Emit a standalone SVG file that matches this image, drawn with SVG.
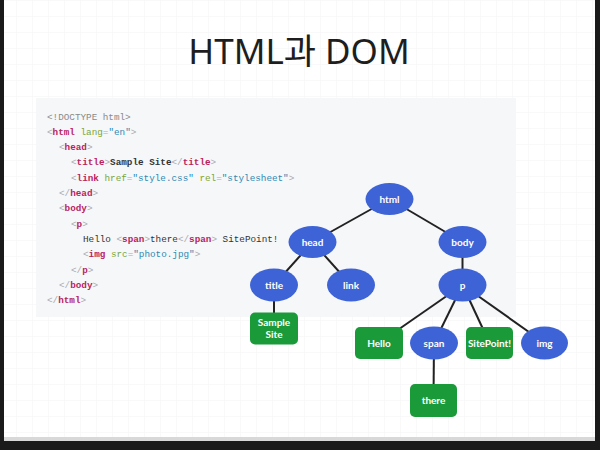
<svg xmlns="http://www.w3.org/2000/svg" width="600" height="450" viewBox="0 0 600 450">
  <defs>
    <pattern id="grid" width="16" height="16" patternUnits="userSpaceOnUse">
      <path d="M16 0H0V16" fill="none" stroke="#f4f4f6" stroke-width="1"/>
    </pattern>
    <linearGradient id="shade" x1="0" y1="0" x2="0" y2="1">
      <stop offset="0" stop-color="#ffffff"/>
      <stop offset="1" stop-color="#d8d8d8"/>
    </linearGradient>
  </defs>
  <style>
    .code { font-family: "Liberation Mono", "DejaVu Sans Mono", monospace; font-size: 9.3px; fill: #333; }
    .b { fill: #a9a9b0; }
    .d { fill: #8a8a8a; }
    .t { fill: #b8235f; font-weight: bold; }
    .a { fill: #7aa53a; }
    .v { fill: #2f89b3; }
    .edge { stroke: #222; stroke-width: 2; fill: none; }
    .el { fill: #3e63d6; }
    .gr { fill: #1b9a3a; }
    .lbl { font-family: "Lato", "Open Sans", sans-serif; font-size: 10px; font-weight: bold; fill: #fff; text-anchor: middle; }
  </style>

  <!-- slide background and frame -->
  <rect x="0" y="0" width="600" height="450" fill="#1a1a1a"/>
  <rect x="4" y="0" width="591" height="441" fill="url(#shade)"/>
  <rect x="4" y="0" width="591" height="437" fill="#ffffff"/>
  <rect x="4" y="0" width="591" height="437" fill="url(#grid)"/>

  <!-- title -->
  <text x="299" y="64" font-family="Noto Sans, Noto Sans CJK KR, sans-serif" font-size="35" fill="#1e1e1e" text-anchor="middle">HTML과 DOM</text>

  <!-- code box -->
  <rect x="36" y="98" width="480" height="219" fill="#f6f7f9"/>
  <g class="code">
    <text x="47" y="119.5"><tspan class="d">&lt;!DOCTYPE html&gt;</tspan></text>
    <text x="47" y="134.8"><tspan class="b">&lt;</tspan><tspan class="t">html</tspan> <tspan class="a">lang</tspan><tspan class="b">=</tspan><tspan class="v">"en"</tspan><tspan class="b">&gt;</tspan></text>
    <text x="59" y="150.1"><tspan class="b">&lt;</tspan><tspan class="t">head</tspan><tspan class="b">&gt;</tspan></text>
    <text x="71" y="165.4"><tspan class="b">&lt;</tspan><tspan class="t">title</tspan><tspan class="b">&gt;</tspan><tspan font-weight="bold">Sample Site</tspan><tspan class="b">&lt;/</tspan><tspan class="t">title</tspan><tspan class="b">&gt;</tspan></text>
    <text x="71" y="180.7"><tspan class="b">&lt;</tspan><tspan class="t">link</tspan> <tspan class="a">href</tspan><tspan class="b">=</tspan><tspan class="v">"style.css"</tspan> <tspan class="a">rel</tspan><tspan class="b">=</tspan><tspan class="v">"stylesheet"</tspan><tspan class="b">&gt;</tspan></text>
    <text x="59" y="196"><tspan class="b">&lt;/</tspan><tspan class="t">head</tspan><tspan class="b">&gt;</tspan></text>
    <text x="59" y="211.3"><tspan class="b">&lt;</tspan><tspan class="t">body</tspan><tspan class="b">&gt;</tspan></text>
    <text x="71" y="226.6"><tspan class="b">&lt;</tspan><tspan class="t">p</tspan><tspan class="b">&gt;</tspan></text>
    <text x="83" y="241.9">Hello <tspan class="b">&lt;</tspan><tspan class="t">span</tspan><tspan class="b">&gt;</tspan>there<tspan class="b">&lt;/</tspan><tspan class="t">span</tspan><tspan class="b">&gt;</tspan> SitePoint!</text>
    <text x="83" y="257.2"><tspan class="b">&lt;</tspan><tspan class="t">img</tspan> <tspan class="a">src</tspan><tspan class="b">=</tspan><tspan class="v">"photo.jpg"</tspan><tspan class="b">&gt;</tspan></text>
    <text x="71" y="272.5"><tspan class="b">&lt;/</tspan><tspan class="t">p</tspan><tspan class="b">&gt;</tspan></text>
    <text x="59" y="287.8"><tspan class="b">&lt;/</tspan><tspan class="t">body</tspan><tspan class="b">&gt;</tspan></text>
    <text x="47" y="303.1"><tspan class="b">&lt;/</tspan><tspan class="t">html</tspan><tspan class="b">&gt;</tspan></text>
  </g>

  <!-- connectors -->
  <g id="connectors" class="edge">
    <line x1="389.5" y1="199" x2="312.5" y2="242"/>
    <line x1="389.5" y1="199" x2="462.5" y2="242"/>
    <line x1="312.5" y1="242" x2="274" y2="285"/>
    <line x1="312.5" y1="242" x2="351" y2="285"/>
    <line x1="462.5" y1="242" x2="462.5" y2="285"/>
    <line x1="274" y1="285" x2="274" y2="328"/>
    <line x1="462.5" y1="285" x2="379" y2="343"/>
    <line x1="462.5" y1="285" x2="434" y2="343"/>
    <line x1="462.5" y1="285" x2="489.5" y2="343"/>
    <line x1="462.5" y1="285" x2="544.5" y2="343"/>
    <line x1="434" y1="343" x2="433.5" y2="400"/>
  </g>

  <!-- nodes -->
  <g id="n-html"><ellipse class="el" cx="389.5" cy="199" rx="24" ry="16"/><text class="lbl" x="389.5" y="202.5">html</text></g>
  <g id="n-head"><ellipse class="el" cx="312.5" cy="242" rx="24" ry="16"/><text class="lbl" x="312.5" y="245.5">head</text></g>
  <g id="n-body"><ellipse class="el" cx="462.5" cy="242" rx="24" ry="16"/><text class="lbl" x="462.5" y="245.5">body</text></g>
  <g id="n-title"><ellipse class="el" cx="274" cy="285" rx="24" ry="16.5"/><text class="lbl" x="274" y="288.5">title</text></g>
  <g id="n-link"><ellipse class="el" cx="351" cy="285" rx="24" ry="16.5"/><text class="lbl" x="351" y="288.5">link</text></g>
  <g id="n-p"><ellipse class="el" cx="462.5" cy="285" rx="24" ry="16.5"/><text class="lbl" x="462.5" y="288.5">p</text></g>
  <g id="n-sample"><rect class="gr" x="250" y="312.5" width="48" height="32" rx="5"/><text class="lbl" x="274" y="326">Sample</text><text class="lbl" x="274" y="338">Site</text></g>
  <g id="n-hello"><rect class="gr" x="355" y="327" width="48" height="32" rx="5"/><text class="lbl" x="379" y="346.5">Hello</text></g>
  <g id="n-span"><ellipse class="el" cx="434" cy="343" rx="24" ry="16.5"/><text class="lbl" x="434" y="346.5">span</text></g>
  <g id="n-sitepoint"><rect class="gr" x="466" y="327" width="47" height="32" rx="5"/><text class="lbl" x="489.5" y="346.5">SitePoint!</text></g>
  <g id="n-img"><ellipse class="el" cx="544.5" cy="343" rx="23.5" ry="16.5"/><text class="lbl" x="544.5" y="346.5">img</text></g>
  <g id="n-there"><rect class="gr" x="410" y="384" width="47" height="33" rx="5"/><text class="lbl" x="433.5" y="404">there</text></g>
</svg>
